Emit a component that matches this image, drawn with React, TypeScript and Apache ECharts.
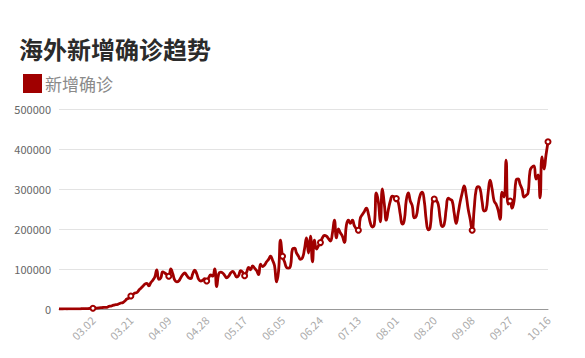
import React, { useEffect, useRef } from "react";
import * as echarts from "echarts";

const TITLE = "海外新增确诊趋势";
const SERIES_NAME = "新增确诊";
const START_DATE = "2020-02-14";

// daily new confirmed cases (overseas), 2020-02-14 .. 2020-10-16
const newConfirmed: number[] = [
  60, 70, 50, 90, 40, 100, 110, 180, 230, 350, 420, 600, 840, 980, 1050, 1300, 1600, 1800,
  2000, 2300, 2700, 3200, 3800, 3900, 4300, 6500, 7400, 9200, 10500, 11000, 13000, 15000, 16000, 20000, 25000, 27000, 32500,
  36000, 40000, 41000, 47000, 52000, 57000, 62000, 64000, 58000, 66000, 72000, 80000, 98000, 74000, 78000, 93000, 90000, 86000, 82000,
  100000, 88000, 72000, 68000, 70000, 78000, 86000, 90000, 84000, 78000, 76000, 88000, 97000, 88000, 74000, 70000, 72000, 76000, 70000,
  78000, 85000, 82000, 100000, 56000, 88000, 92000, 90000, 84000, 78000, 82000, 90000, 94000, 88000, 80000, 84000, 96000, 92000, 83000,
  92000, 104000, 98000, 108000, 102000, 96000, 86000, 112000, 106000, 110000, 118000, 124000, 132000, 122000, 108000, 68000, 95000, 172000, 132000,
  118000, 104000, 102000, 108000, 150000, 152000, 140000, 132000, 124000, 128000, 150000, 178000, 140000, 182000, 118000, 172000, 150000, 158000, 166000,
  178000, 184000, 182000, 176000, 170000, 190000, 222000, 178000, 200000, 190000, 182000, 166000, 210000, 222000, 214000, 222000, 208000, 200000, 197000,
  228000, 236000, 244000, 252000, 238000, 215000, 205000, 212000, 290000, 268000, 218000, 300000, 262000, 222000, 248000, 270000, 282000, 280000, 276000,
  266000, 236000, 212000, 222000, 272000, 290000, 270000, 258000, 228000, 232000, 262000, 285000, 292000, 270000, 222000, 198000, 205000, 262000, 275000,
  272000, 262000, 225000, 206000, 212000, 250000, 277000, 274000, 270000, 240000, 214000, 240000, 268000, 290000, 308000, 285000, 250000, 225000, 197000,
  250000, 298000, 306000, 300000, 268000, 245000, 248000, 290000, 322000, 300000, 270000, 262000, 248000, 224000, 292000, 280000, 372000, 262000, 270000,
  252000, 270000, 322000, 325000, 312000, 300000, 280000, 284000, 290000, 345000, 355000, 358000, 325000, 335000, 278000, 380000, 350000, 385000, 418000,
];

const yTicks = [0, 100000, 200000, 300000, 400000, 500000];

function buildDates(start: string, count: number): string[] {
  const out: string[] = [];
  const d = new Date(start + "T00:00:00Z");
  for (let i = 0; i < count; i++) {
    const m = String(d.getUTCMonth() + 1).padStart(2, "0");
    const day = String(d.getUTCDate()).padStart(2, "0");
    out.push(`${m}.${day}`);
    d.setUTCDate(d.getUTCDate() + 1);
  }
  return out;
}

const dates = buildDates(START_DATE, newConfirmed.length);
const LABEL_STEP = 19;
const lastIndex = dates.length - 1;

export default function App() {
  const ref = useRef<HTMLDivElement>(null);
  useEffect(() => {
    document.body.style.margin = "0";
    if (!ref.current) return;
    const chart = echarts.init(ref.current, undefined, { renderer: "svg" });
    const red = "#a00000";
    chart.setOption({
      animation: false,
      backgroundColor: "#ffffff",
      textStyle: { fontFamily: "'Noto Sans CJK SC', 'Noto Sans', sans-serif" },
      title: {
        text: TITLE,
        left: 14,
        top: 31,
        textStyle: { fontSize: 24, fontWeight: "bold", color: "#2b2b2b" },
      },
      legend: {
        data: [SERIES_NAME],
        left: 18,
        top: 69,
        icon: "rect",
        itemWidth: 17,
        itemHeight: 17,
        itemGap: 10,
        textStyle: { fontSize: 17, color: "#8a8a8a", padding: [0, 0, 0, -1] },
      },
      grid: { left: 59, right: 37, top: 109, bottom: 49 },
      xAxis: {
        type: "category",
        data: dates,
        boundaryGap: false,
        axisLine: { lineStyle: { color: "#999" } },
        axisTick: { show: false },
        axisLabel: {
          rotate: 45,
          color: "#aaa",
          fontSize: 11,
          margin: 9,
          interval: (index: number) => (lastIndex - index) % LABEL_STEP === 0,
        },
        splitLine: { show: false },
      },
      yAxis: {
        type: "value",
        min: yTicks[0],
        max: yTicks[yTicks.length - 1],
        interval: yTicks[1] - yTicks[0],
        axisLine: { show: false },
        axisTick: { show: false },
        axisLabel: {
          color: "#666",
          fontSize: 11,
          margin: 8,
          formatter: (v: number) => String(v),
        },
        splitLine: { lineStyle: { color: "#e3e3e3" } },
      },
      series: [
        {
          name: SERIES_NAME,
          type: "line",
          data: newConfirmed,
          smooth: true,
          showSymbol: true,
          showAllSymbol: "auto",
          symbol: "emptyCircle",
          symbolSize: 5,
          itemStyle: { color: red, borderColor: red, borderWidth: 1 },
          lineStyle: { color: red, width: 2.8 },
        },
      ],
    });
    return () => chart.dispose();
  }, []);
  return <div ref={ref} style={{ width: 585, height: 358 }} />;
}
